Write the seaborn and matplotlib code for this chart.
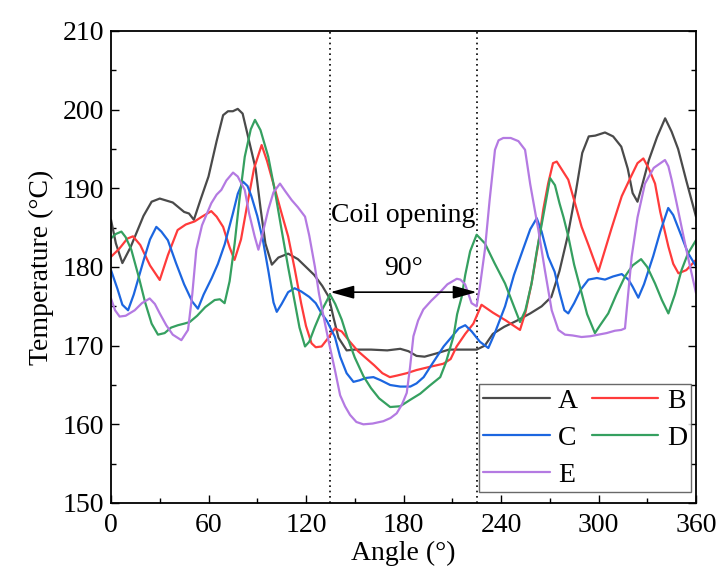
import numpy as np
import pandas as pd
import matplotlib
matplotlib.use("Agg")
import matplotlib.pyplot as plt
import seaborn as sns
from matplotlib.ticker import MultipleLocator

# ---- data ----
series_names = ["A", "B", "C", "D", "E"]

a_angle = [0, 3, 7, 12, 20, 25, 30, 38, 45, 48, 51, 55, 60, 65, 69, 72, 75, 78, 81, 85, 89, 92, 95, 99, 103, 109, 115, 120, 125, 130, 134, 137, 140, 145, 150, 160, 170, 178, 183, 188, 193, 200, 208, 218, 225, 230, 235, 242, 250, 258, 265, 271, 276, 281, 286, 290, 294, 298, 304, 309, 314, 318, 321, 324, 327, 331, 336, 341, 345, 349, 354, 360]
a_temp = [186.0, 183.0, 180.5, 182.5, 186.5, 188.3, 188.7, 188.2, 187.0, 186.8, 186.0, 188.5, 191.5, 196.0, 199.3, 199.8, 199.8, 200.1, 199.5, 196.0, 192.5, 187.5, 183.0, 180.3, 181.2, 181.7, 181.0, 180.0, 179.0, 177.6, 176.2, 173.5, 171.0, 169.4, 169.5, 169.5, 169.4, 169.6, 169.3, 168.7, 168.6, 169.0, 169.5, 169.5, 169.5, 170.0, 171.5, 172.4, 173.2, 174.1, 175.0, 176.2, 179.5, 183.9, 189.5, 194.5, 196.6, 196.7, 197.1, 196.6, 195.3, 192.5, 189.4, 188.3, 190.5, 193.6, 196.5, 198.9, 197.2, 195.0, 191.0, 186.4]

b_angle = [0, 5, 10, 13.5, 18, 24, 30, 35, 41, 46, 51.5, 56, 61.7, 65, 69, 73, 76, 80, 84, 88, 92.7, 96, 101, 105, 109, 113, 117, 120, 123.4, 126, 129.6, 133, 137.8, 142, 147, 152, 157, 162, 167, 171.6, 176, 182, 188, 196, 204.5, 209, 212.7, 218, 223, 228, 235, 243, 251.7, 255, 258.8, 263, 266, 269, 272, 274.3, 278, 281.4, 285, 289.6, 294, 297, 299.9, 303, 308, 314.3, 320, 324, 327.6, 331, 334.8, 338, 343, 346, 349.2, 354, 360]
b_temp = [181.3, 182.3, 183.6, 183.9, 182.8, 180.2, 178.35, 181.5, 184.7, 185.4, 185.8, 186.4, 187.1, 186.4, 185.1, 182.5, 180.9, 183.5, 188.1, 192.5, 195.5, 193.5, 189.8, 186.8, 183.9, 179.8, 175.4, 172.5, 170.3, 169.8, 169.9, 170.8, 172.2, 171.8, 170.5, 169.3, 168.4, 167.5, 166.5, 166.0, 166.2, 166.5, 166.9, 167.3, 167.7, 168.3, 169.9, 171.5, 172.8, 175.2, 174.2, 173.2, 172.0, 174.2, 177.9, 183.0, 187.3, 190.6, 193.2, 193.4, 192.2, 191.1, 188.5, 185.1, 182.7, 181.0, 179.4, 181.5, 184.9, 189.0, 191.5, 193.2, 193.8, 192.5, 190.6, 187.0, 182.6, 180.4, 179.2, 179.6, 180.9]

c_angle = [0, 4, 7, 10.5, 14, 20, 24, 27.9, 31, 35, 40, 45, 50, 53.5, 57, 62, 65.8, 70, 75, 78, 81.2, 84, 86.4, 90, 93.5, 97, 100, 102, 105, 109, 113, 117, 122, 126, 129.6, 133, 137.8, 141, 145, 149.2, 153, 157, 161.5, 166, 171.8, 178, 184.2, 188, 192.4, 198, 204.7, 210, 214, 218, 222, 227, 232.2, 236, 242.5, 248, 254, 258, 262, 265, 269, 273, 276, 279, 281.4, 285, 289, 293.8, 299, 304, 309, 314.3, 318.4, 321, 324.5, 328, 333.7, 338, 342.9, 346, 351.1, 355, 360]
c_temp = [179.6, 177.2, 175.2, 174.5, 176.5, 180.8, 183.5, 185.1, 184.5, 183.4, 180.5, 177.8, 175.6, 174.7, 176.5, 178.6, 180.4, 182.9, 186.8, 189.3, 190.85, 190.3, 189.0, 186.5, 183.4, 179.3, 175.5, 174.3, 175.3, 176.8, 177.3, 176.9, 176.2, 175.4, 174.1, 173.1, 171.1, 168.6, 166.5, 165.4, 165.6, 165.9, 166.0, 165.6, 165.0, 164.8, 164.8, 165.2, 166.0, 167.8, 169.9, 171.2, 172.2, 172.6, 171.8, 170.5, 169.7, 171.5, 175.0, 179.0, 182.5, 184.8, 186.2, 184.5, 181.3, 179.4, 176.8, 174.5, 174.1, 175.4, 177.1, 178.4, 178.6, 178.4, 178.8, 179.1, 178.4, 177.5, 176.1, 177.8, 181.4, 184.5, 187.5, 186.6, 183.9, 181.8, 180.1]

d_angle = [0, 3, 6.4, 9, 12.5, 17, 21, 25, 28.9, 33, 37, 41.2, 45, 48.4, 53, 58, 63.8, 67, 69.9, 73, 76.1, 79, 82.3, 86, 88.6, 92, 96.8, 101, 105, 109, 113.2, 116, 119.4, 122, 125.5, 130, 134.8, 138, 142, 145.2, 150, 155.4, 160, 165, 171.8, 178, 184, 190.3, 196, 202.6, 206, 210.8, 213, 215.8, 218, 221, 225, 230.1, 236, 242.5, 247, 251.7, 255, 258.8, 262, 266, 270.2, 273.2, 276, 278.5, 281.4, 285, 289.6, 293, 297.8, 301, 306, 311, 316.3, 321, 326.2, 330, 334.8, 339, 343, 347, 351.1, 355, 360]
d_temp = [183.65, 184.2, 184.5, 183.8, 182.2, 178.8, 175.5, 172.8, 171.4, 171.6, 172.3, 172.6, 172.8, 173.0, 173.8, 174.9, 175.8, 175.9, 175.4, 178.2, 183.0, 188.5, 194.0, 197.5, 198.7, 197.4, 194.0, 189.5, 184.7, 180.0, 175.4, 172.3, 169.9, 170.5, 172.4, 174.6, 176.5, 175.3, 173.3, 171.2, 168.5, 166.1, 164.6, 163.3, 162.2, 162.3, 163.1, 163.9, 164.9, 166.0, 167.8, 171.2, 174.0, 176.2, 179.0, 182.0, 184.1, 183.0, 180.5, 177.9, 175.5, 173.0, 174.5, 177.9, 182.0, 186.5, 191.3, 190.4, 188.1, 186.3, 183.9, 180.3, 176.7, 174.0, 171.6, 172.6, 174.1, 176.5, 178.8, 180.2, 181.0, 180.0, 177.9, 175.8, 174.1, 176.5, 179.6, 181.7, 183.4]

e_angle = [0, 2.5, 5.3, 9, 14.6, 19, 23.8, 27, 30, 34, 38, 43.3, 47.4, 50, 52.5, 56, 61.7, 65, 67.9, 71, 75.1, 78, 82.3, 85, 88.4, 90.7, 93, 96.8, 100, 104, 107, 111.2, 115, 119.4, 122, 125.5, 128, 131.7, 134, 137.8, 141, 144, 147.1, 151, 155.3, 161, 167.6, 172, 175.8, 179, 182, 184, 186.1, 189, 192.2, 197, 202.5, 207, 212.8, 215, 217.9, 221.9, 225, 227, 230.1, 233, 236.3, 238.5, 241.4, 246, 250.7, 254.8, 258, 263, 267, 271.2, 275.3, 279.4, 284, 289.6, 295, 299.9, 305, 310.1, 314, 316.3, 318, 320.4, 324, 328.6, 334, 340.9, 343, 345, 348, 351.1, 355, 360]
e_temp = [176.0, 174.5, 173.7, 173.8, 174.5, 175.4, 176.0, 175.3, 174.1, 172.6, 171.4, 170.7, 172.0, 176.5, 182.2, 185.3, 188.1, 189.2, 189.8, 191.0, 192.0, 191.5, 189.8, 186.8, 183.9, 182.2, 184.0, 187.3, 189.5, 190.6, 189.7, 188.5, 187.6, 186.4, 184.0, 180.0, 176.6, 172.8, 170.5, 166.9, 163.7, 162.3, 161.2, 160.3, 160.0, 160.1, 160.4, 160.8, 161.4, 162.5, 164.0, 167.2, 171.2, 173.2, 174.6, 175.7, 176.8, 177.8, 178.5, 178.4, 177.8, 175.4, 175.0, 177.5, 182.2, 188.5, 194.9, 196.1, 196.4, 196.4, 196.0, 194.9, 190.5, 184.7, 179.6, 174.5, 172.0, 171.4, 171.3, 171.1, 171.2, 171.4, 171.6, 171.9, 172.0, 172.2, 176.0, 181.3, 186.3, 190.6, 192.6, 193.6, 192.8, 191.1, 188.2, 185.1, 181.3, 176.7]

x_ticks = [0, 60, 120, 180, 240, 300, 360]
y_ticks = [150, 160, 170, 180, 190, 200, 210]
opening_start, opening_end = 135, 225
opening_label = "Coil opening"
opening_angle_label = "90°"

colors = {"A": "#4a4a4a", "B": "#ff3b3b", "C": "#1c66e0", "D": "#35a060", "E": "#b47ae2"}

# ---- build long table ----
frames = []
for name, ang, tmp in zip(series_names,
                          [a_angle, b_angle, c_angle, d_angle, e_angle],
                          [a_temp, b_temp, c_temp, d_temp, e_temp]):
    frames.append(pd.DataFrame({"angle": ang, "temp": tmp, "series": name}))
df = pd.concat(frames, ignore_index=True)

sns.set_theme(style="ticks")
plt.rcParams["font.family"] = ["Liberation Serif", "DejaVu Serif"]
plt.rcParams["text.color"] = "black"
plt.rcParams["axes.labelcolor"] = "black"

fig = plt.figure(figsize=(7.18, 5.77), dpi=100)
ax = fig.add_axes([111/718, 1 - 503/577, (696-111)/718, (503-31)/577])

sns.lineplot(data=df, x="angle", y="temp", hue="series", palette=colors,
             estimator=None, sort=False, linewidth=1.6, ax=ax, legend=True)

ax.set_xlim(0, 360)
ax.set_ylim(150, 210)
ax.set_xticks(x_ticks)
ax.set_yticks(y_ticks)
ax.xaxis.set_minor_locator(MultipleLocator(30))
ax.yaxis.set_minor_locator(MultipleLocator(5))
ax.tick_params(which="both", direction="in", top=False, right=True,
               width=1.0, colors="black", labelcolor="black", labelsize=20)
ax.tick_params(which="major", length=6)
ax.tick_params(which="minor", length=3.5)
ax.tick_params(axis="x", pad=7)
ax.tick_params(axis="y", pad=5)
for s in ax.spines.values():
    s.set_linewidth(1.3)
    s.set_color("black")

ax.set_xlabel("Angle (°)", fontsize=20, labelpad=2, color="black")
ax.set_ylabel("Temperature (°C)", fontsize=20, labelpad=6, color="black")

# annotations
for xv in (opening_start, opening_end):
    ax.axvline(xv, color="black", linestyle=(0, (1, 2.2)), linewidth=1.2, zorder=1)
ax.annotate("", xy=(opening_start, 176.8), xytext=(opening_end, 176.8),
            arrowprops=dict(arrowstyle="<|-|>,head_width=0.25,head_length=0.9",
                            color="black", lw=1.2,
                            mutation_scale=16, shrinkA=0, shrinkB=0))
ax.text(180, 186.6, opening_label, ha="center", va="center", fontsize=20, color="black")
ax.text(180, 179.8, opening_angle_label, ha="center", va="center", fontsize=20, color="black")

# legend ordered to give rows A B / C D / E
handles, labels = ax.get_legend_handles_labels()
hmap = dict(zip(labels, handles))
order = ["A", "C", "E", "B", "D"]
for h in hmap.values():
    h.set_linewidth(1.6)
leg = ax.legend([hmap[k] for k in order], order, ncol=2, loc="lower right",
                bbox_to_anchor=(0.9915, 0.0233), borderaxespad=0,
                fontsize=20, frameon=True, fancybox=False, edgecolor="#444444",
                handlelength=2.4, handletextpad=0.3, columnspacing=0.5,
                labelspacing=0.42, borderpad=0.15)
leg.get_frame().set_linewidth(1.0)
for t in leg.get_texts():
    t.set_color("black")

fig.savefig("out.png", dpi=100, facecolor="white")
